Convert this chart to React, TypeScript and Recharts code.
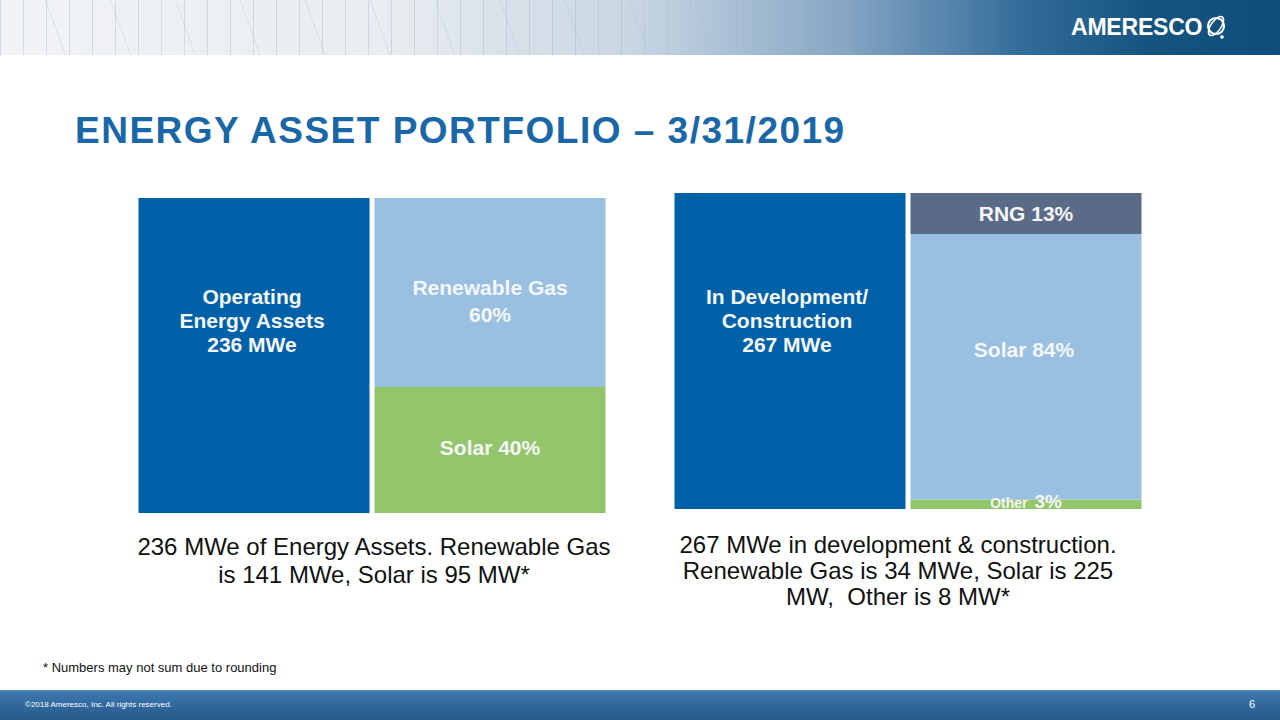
import React from "react";
import { BarChart, Bar, XAxis, YAxis, LabelList } from "recharts";

// left panel: operating assets (share of 236 MWe)
const opsCats = ["Operating", "Mix"];
const opsTotal = [100, 0];
const opsSolar = [0, 40];
const opsGas = [0, 60];

// right panel: development / construction (share of 267 MWe)
const devCats = ["Development", "Mix"];
const devTotal = [100, 0];
const devOther = [0, 3];
const devSolar = [0, 84];
const devRng = [0, 13];

const opsCaption = ["236 MWe of Energy Assets. Renewable Gas", "is 141 MWe, Solar is 95 MW*"];
const devCaption = [
  "267 MWe in development & construction.",
  "Renewable Gas is 34 MWe, Solar is 225",
  "MW,  Other is 8 MW*",
];

const DARK = "#0061A8";
const LIGHT = "#99C0E0";
const GREEN = "#93C56B";
const RNG = "#5B6A86";
const FONT = "'Liberation Sans', Arial, Helvetica, sans-serif";

const opsData = opsCats.map((name, i) => ({
  name,
  total: opsTotal[i],
  solar: opsSolar[i],
  gas: opsGas[i],
}));

const devData = devCats.map((name, i) => ({
  name,
  total: devTotal[i],
  other: devOther[i],
  solar: devSolar[i],
  rng: devRng[i],
}));

function blockLabel(lines: string[], offsets: number[], dx = 0, size = 21) {
  return (p: any) => {
    const h = Number(p.height);
    if (!h || h <= 0) return null;
    const cx = Number(p.x) + Number(p.width) / 2 + dx;
    const top = Number(p.y);
    return (
      <text
        textAnchor="middle"
        fill="#F4F6F8"
        fontFamily={FONT}
        fontWeight="bold"
        fontSize={size}
      >
        {lines.map((l, i) => (
          <tspan key={i} x={cx} y={top + offsets[i]}>
            {l}
          </tspan>
        ))}
      </text>
    );
  };
}

function otherLabel(p: any) {
  const h = Number(p.height);
  if (!h || h <= 0) return null;
  const cx = Number(p.x) + Number(p.width) / 2;
  return (
    <text x={cx} y={Number(p.y) + 8} textAnchor="middle" fill="#F4F6F8" fontFamily={FONT} fontWeight="bold">
      <tspan fontSize={14}>Other </tspan>
      <tspan fontSize={19} dx={3}>3%</tspan>
    </text>
  );
}

function Header() {
  return (
    <div
      style={{
        position: "absolute",
        left: 0,
        top: 0,
        width: 1280,
        height: 55,
        background:
          "linear-gradient(90deg, #f1f3f5 0%, #e9edf1 30%, #c7d5e2 50%, #86a6c4 66%, #326c99 80%, #15537f 90%, #0f4d7b 100%)",
        overflow: "hidden",
      }}
    >
      <div
        style={{
          position: "absolute",
          inset: 0,
          background:
            "repeating-linear-gradient(90deg, rgba(150,175,200,0.35) 0px, rgba(150,175,200,0.35) 1px, transparent 1px, transparent 23px), repeating-linear-gradient(70deg, rgba(160,185,210,0.25) 0px, rgba(160,185,210,0.25) 1px, transparent 1px, transparent 61px)",
          WebkitMaskImage: "linear-gradient(90deg, #000 0%, #000 45%, transparent 75%)",
          maskImage: "linear-gradient(90deg, #000 0%, #000 45%, transparent 75%)",
        }}
      />
      <div
        style={{
          position: "absolute",
          left: 1071,
          top: 14,
          color: "#fff",
          fontFamily: FONT,
          fontWeight: "bold",
          fontSize: 23,
          letterSpacing: -0.2,
        }}
      >
        AMERESCO
      </div>
      <svg style={{ position: "absolute", left: 1203, top: 12 }} width={28} height={30}>
        <circle cx={13} cy={14} r={8} fill="none" stroke="#fff" strokeWidth={2.2} />
        <ellipse cx={13} cy={14} rx={11} ry={5} fill="none" stroke="#fff" strokeWidth={1.6} transform="rotate(-55 13 14)" />
        <circle cx={19} cy={25} r={1.8} fill="#fff" />
      </svg>
    </div>
  );
}

export default function App() {
  return (
    <div
      style={{
        position: "fixed",
        left: 0,
        top: 0,
        width: 1280,
        height: 720,
        background: "#fff",
        fontFamily: FONT,
        overflow: "hidden",
      }}
    >
      <Header />
      <div
        style={{
          position: "absolute",
          left: 75,
          top: 110,
          fontSize: 37,
          fontWeight: "bold",
          color: "#1A67A8",
          letterSpacing: 1.5,
          lineHeight: "42px",
          whiteSpace: "nowrap",
        }}
      >
        ENERGY ASSET PORTFOLIO – 3/31/2019
      </div>

      <div style={{ position: "absolute", left: 136, top: 198 }}>
        <BarChart width={472} height={315} data={opsData} margin={{ top: 0, right: 0, bottom: 0, left: 0 }} barCategoryGap={2.5}>
          <XAxis dataKey="name" hide />
          <YAxis hide domain={[0, 100]} />
          <Bar dataKey="total" stackId="a" fill={DARK} isAnimationActive={false}>
            <LabelList content={blockLabel(["Operating", "Energy Assets", "236 MWe"], [106, 130, 154], -2)} />
          </Bar>
          <Bar dataKey="solar" stackId="a" fill={GREEN} isAnimationActive={false}>
            <LabelList content={blockLabel(["Solar 40%"], [68])} />
          </Bar>
          <Bar dataKey="gas" stackId="a" fill={LIGHT} isAnimationActive={false}>
            <LabelList content={blockLabel(["Renewable Gas", "60%"], [97, 124])} />
          </Bar>
        </BarChart>
      </div>

      <div style={{ position: "absolute", left: 672, top: 193 }}>
        <BarChart width={472} height={330} data={devData} margin={{ top: 0, right: 0, bottom: 14, left: 0 }} barCategoryGap={2.5}>
          <XAxis dataKey="name" hide />
          <YAxis hide domain={[0, 100]} />
          <Bar dataKey="total" stackId="a" fill={DARK} isAnimationActive={false}>
            <LabelList content={blockLabel(["In Development/", "Construction", "267 MWe"], [111, 135, 159], -3)} />
          </Bar>
          <Bar dataKey="other" stackId="a" fill={GREEN} isAnimationActive={false}>
            <LabelList content={otherLabel} />
          </Bar>
          <Bar dataKey="solar" stackId="a" fill={LIGHT} isAnimationActive={false}>
            <LabelList content={blockLabel(["Solar 84%"], [123], -2)} />
          </Bar>
          <Bar dataKey="rng" stackId="a" fill={RNG} isAnimationActive={false}>
            <LabelList content={blockLabel(["RNG 13%"], [28])} />
          </Bar>
        </BarChart>
      </div>

      <div
        style={{
          position: "absolute",
          left: 124,
          top: 533,
          width: 500,
          textAlign: "center",
          fontSize: 24,
          lineHeight: "28px",
          color: "#111",
        }}
      >
        {opsCaption.map((l, i) => (
          <div key={i}>{l}</div>
        ))}
      </div>
      <div
        style={{
          position: "absolute",
          left: 648,
          top: 532,
          width: 500,
          textAlign: "center",
          fontSize: 24,
          lineHeight: "26px",
          color: "#111",
          whiteSpace: "pre",
        }}
      >
        {devCaption.map((l, i) => (
          <div key={i}>{l}</div>
        ))}
      </div>

      <div style={{ position: "absolute", left: 43, top: 660, fontSize: 13, color: "#111" }}>
        * Numbers may not sum due to rounding
      </div>

      <div
        style={{
          position: "absolute",
          left: 0,
          top: 690,
          width: 1280,
          height: 30,
          background: "linear-gradient(180deg, #5b93c4 0px, #3b78ae 2px, #2f6699 60%, #28598a 100%)",
        }}
      >
        <div style={{ position: "absolute", left: 25, top: 10, fontSize: 8, color: "#fff" }}>
          ©2018 Ameresco, Inc. All rights reserved.
        </div>
        <div style={{ position: "absolute", left: 1249, top: 8, fontSize: 11, color: "#fff" }}>6</div>
      </div>
    </div>
  );
}
